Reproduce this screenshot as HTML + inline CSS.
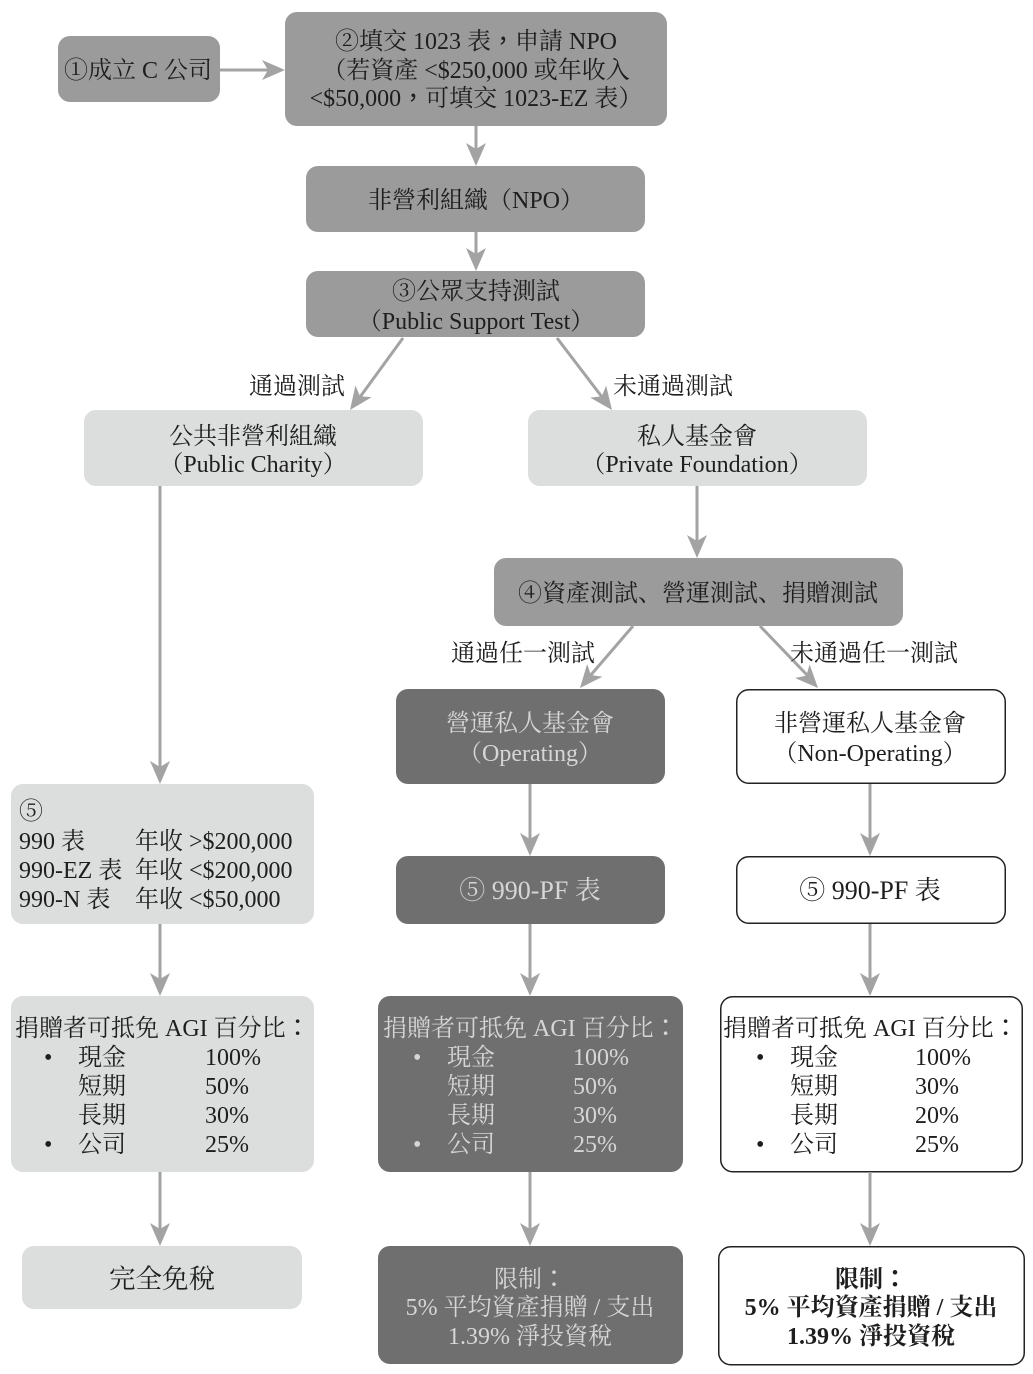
<!DOCTYPE html>
<html>
<head>
<meta charset="utf-8">
<style>
  html,body{margin:0;padding:0;background:#fff;}
  svg{display:block;}
  text{font-family:"Liberation Serif","Noto Serif CJK SC",serif;font-size:24px;fill:#1e1e1e;}
  .c{text-anchor:middle;}
  .lt{fill:#d6d6d6;}
  .p{font-family:"Noto Sans CJK TC",sans-serif;}
  .ln{stroke:#a3a3a3;stroke-width:3;fill:none;}
  .ah{fill:#a3a3a3;}
</style>
</head>
<body>
<svg width="1033" height="1374" viewBox="0 0 1033 1374" xmlns="http://www.w3.org/2000/svg">
  <defs>
    <path id="ah" d="M0,0 L-10,-23 L0,-17 L10,-23 Z"/>
  </defs>

  <!-- Boxes -->
  <rect x="58" y="36" width="162" height="66" rx="12" fill="#9b9b9b"/>
  <rect x="285" y="12" width="382" height="114" rx="12" fill="#9b9b9b"/>
  <rect x="306" y="166" width="339" height="66" rx="12" fill="#9b9b9b"/>
  <rect x="306" y="271" width="339" height="66" rx="12" fill="#9b9b9b"/>
  <rect x="84" y="410" width="339" height="76" rx="12" fill="#dcdddd"/>
  <rect x="528" y="410" width="339" height="76" rx="12" fill="#dcdddd"/>
  <rect x="494" y="558" width="409" height="68" rx="12" fill="#9b9b9b"/>
  <rect x="396" y="689" width="269" height="95" rx="12" fill="#6f6f6f"/>
  <rect x="736.75" y="689.75" width="268.5" height="93.5" rx="12" fill="#fff" stroke="#222" stroke-width="1.5"/>
  <rect x="11" y="784" width="303" height="140" rx="12" fill="#dcdddd"/>
  <rect x="396" y="856" width="269" height="68" rx="12" fill="#6f6f6f"/>
  <rect x="736.75" y="856.75" width="268.5" height="66.5" rx="12" fill="#fff" stroke="#222" stroke-width="1.5"/>
  <rect x="11" y="996" width="303" height="176" rx="12" fill="#dcdddd"/>
  <rect x="378" y="996" width="305" height="176" rx="12" fill="#6f6f6f"/>
  <rect x="720.75" y="996.75" width="301.5" height="175" rx="12" fill="#fff" stroke="#222" stroke-width="1.5"/>
  <rect x="22" y="1246" width="280" height="63" rx="12" fill="#dcdddd"/>
  <rect x="378" y="1246" width="305" height="118" rx="12" fill="#6f6f6f"/>
  <rect x="718.75" y="1246.75" width="305.5" height="118" rx="12" fill="#fff" stroke="#222" stroke-width="1.5"/>

  <!-- Connectors -->
  <line class="ln" x1="220" y1="70" x2="268" y2="70"/>
  <use href="#ah" class="ah" transform="translate(285,70) rotate(-90)"/>

  <line class="ln" x1="476" y1="126" x2="476" y2="150"/>
  <use href="#ah" class="ah" transform="translate(476,166)"/>
  <line class="ln" x1="476" y1="232" x2="476" y2="255"/>
  <use href="#ah" class="ah" transform="translate(476,271)"/>

  <line class="ln" x1="403" y1="338" x2="360" y2="397"/>
  <use href="#ah" class="ah" transform="translate(350,410) rotate(36)"/>
  <line class="ln" x1="557" y1="338" x2="602" y2="397"/>
  <use href="#ah" class="ah" transform="translate(612,410) rotate(-37)"/>

  <line class="ln" x1="697" y1="486" x2="697" y2="542"/>
  <use href="#ah" class="ah" transform="translate(697,558)"/>

  <line class="ln" x1="633" y1="626" x2="590" y2="676"/>
  <use href="#ah" class="ah" transform="translate(580,688) rotate(40)"/>
  <line class="ln" x1="760" y1="626" x2="808" y2="676"/>
  <use href="#ah" class="ah" transform="translate(818,688) rotate(-43)"/>

  <line class="ln" x1="160" y1="486" x2="160" y2="768"/>
  <use href="#ah" class="ah" transform="translate(160,784)"/>

  <line class="ln" x1="530" y1="784" x2="530" y2="840"/>
  <use href="#ah" class="ah" transform="translate(530,856)"/>
  <line class="ln" x1="870" y1="784" x2="870" y2="840"/>
  <use href="#ah" class="ah" transform="translate(870,856)"/>

  <line class="ln" x1="160" y1="924" x2="160" y2="980"/>
  <use href="#ah" class="ah" transform="translate(160,996)"/>
  <line class="ln" x1="530" y1="924" x2="530" y2="980"/>
  <use href="#ah" class="ah" transform="translate(530,996)"/>
  <line class="ln" x1="870" y1="924" x2="870" y2="980"/>
  <use href="#ah" class="ah" transform="translate(870,996)"/>

  <line class="ln" x1="160" y1="1172" x2="160" y2="1230"/>
  <use href="#ah" class="ah" transform="translate(160,1246)"/>
  <line class="ln" x1="530" y1="1172" x2="530" y2="1230"/>
  <use href="#ah" class="ah" transform="translate(530,1246)"/>
  <line class="ln" x1="870" y1="1172" x2="870" y2="1230"/>
  <use href="#ah" class="ah" transform="translate(870,1246)"/>

  <!-- Text -->
  <text class="c" x="138" y="78">①成立 C 公司</text>

  <text class="c" x="476" y="49">②填交 1023 表<tspan class="p">，</tspan>申請 NPO</text>
  <text class="c" x="476" y="78">（若資產 &lt;$250,000 或年收入</text>
  <text class="c" x="476" y="106">&lt;$50,000<tspan class="p">，</tspan>可填交 1023-EZ 表）</text>

  <text class="c" x="476" y="208">非營利組織（NPO）</text>

  <text class="c" x="476" y="299">③公眾支持測試</text>
  <text class="c" x="476" y="329">（Public Support Test）</text>

  <text x="345" y="394" style="text-anchor:end">通過測試</text>
  <text x="613" y="394">未通過測試</text>

  <text class="c" x="253" y="444">公共非營利組織</text>
  <text class="c" x="253" y="472">（Public Charity）</text>

  <text class="c" x="697" y="444">私人基金會</text>
  <text class="c" x="697" y="472">（Private Foundation）</text>

  <text class="c" x="698" y="601">④資產測試、營運測試、捐贈測試</text>

  <text x="595" y="661" style="text-anchor:end">通過任一測試</text>
  <text x="790" y="661">未通過任一測試</text>

  <text class="c lt" x="530" y="731">營運私人基金會</text>
  <text class="c lt" x="530" y="761">（Operating）</text>

  <text class="c" x="870" y="731">非營運私人基金會</text>
  <text class="c" x="870" y="761">（Non-Operating）</text>

  <text x="19" y="819">⑤</text>
  <text x="19" y="849">990 表</text>
  <text x="135" y="849">年收 &gt;$200,000</text>
  <text x="19" y="878">990-EZ 表</text>
  <text x="135" y="878">年收 &lt;$200,000</text>
  <text x="19" y="907">990-N 表</text>
  <text x="135" y="907">年收 &lt;$50,000</text>

  <text class="c lt" x="530" y="899" style="font-size:26px">⑤ 990-PF 表</text>
  <text class="c" x="870" y="899" style="font-size:26px">⑤ 990-PF 表</text>

  <!-- AGI left -->
  <text x="15" y="1036">捐贈者可抵免 AGI 百分比<tspan class="p">：</tspan></text>
  <text x="44" y="1065">•</text><text x="78" y="1065">現金</text><text x="205" y="1065">100%</text>
  <text x="78" y="1094">短期</text><text x="205" y="1094">50%</text>
  <text x="78" y="1123">長期</text><text x="205" y="1123">30%</text>
  <text x="44" y="1152">•</text><text x="78" y="1152">公司</text><text x="205" y="1152">25%</text>

  <!-- AGI mid -->
  <text class="lt" x="383" y="1036">捐贈者可抵免 AGI 百分比<tspan class="p">：</tspan></text>
  <text class="lt" x="413" y="1065">•</text><text class="lt" x="447" y="1065">現金</text><text class="lt" x="573" y="1065">100%</text>
  <text class="lt" x="447" y="1094">短期</text><text class="lt" x="573" y="1094">50%</text>
  <text class="lt" x="447" y="1123">長期</text><text class="lt" x="573" y="1123">30%</text>
  <text class="lt" x="413" y="1152">•</text><text class="lt" x="447" y="1152">公司</text><text class="lt" x="573" y="1152">25%</text>

  <!-- AGI right -->
  <text x="723" y="1036">捐贈者可抵免 AGI 百分比<tspan class="p">：</tspan></text>
  <text x="756" y="1065">•</text><text x="790" y="1065">現金</text><text x="915" y="1065">100%</text>
  <text x="790" y="1094">短期</text><text x="915" y="1094">30%</text>
  <text x="790" y="1123">長期</text><text x="915" y="1123">20%</text>
  <text x="756" y="1152">•</text><text x="790" y="1152">公司</text><text x="915" y="1152">25%</text>

  <text class="c" x="162" y="1288" style="font-size:26.5px">完全免稅</text>

  <text class="c lt" x="530" y="1287">限制<tspan class="p">：</tspan></text>
  <text class="c lt" x="530" y="1315">5% 平均資產捐贈 / 支出</text>
  <text class="c lt" x="530" y="1344">1.39% 淨投資稅</text>

  <text class="c" x="871" y="1287" style="font-weight:bold">限制<tspan class="p">：</tspan></text>
  <text class="c" x="871" y="1315" style="font-weight:bold">5% 平均資產捐贈 / 支出</text>
  <text class="c" x="871" y="1344" style="font-weight:bold">1.39% 淨投資稅</text>
</svg>
</body>
</html>
